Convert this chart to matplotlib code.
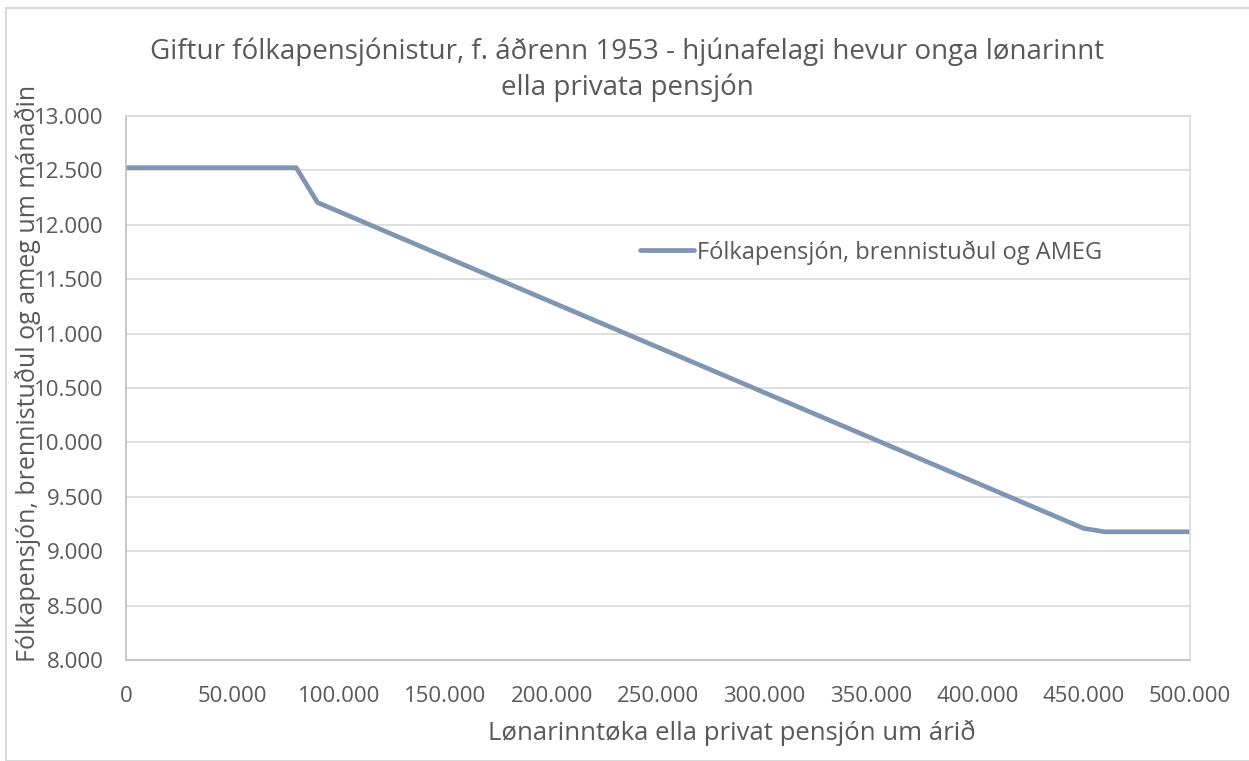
import matplotlib
matplotlib.use("Agg")
import matplotlib.pyplot as plt
from matplotlib.ticker import FuncFormatter, MultipleLocator
from matplotlib.patches import Rectangle

income = [0, 80000, 90000, 450000, 460000, 500000]
pension = [12525, 12525, 12205, 9210, 9178, 9178]

title = "Giftur fólkapensjónistur, f. áðrenn 1953 - hjúnafelagi hevur onga lønarinnt\nella privata pensjón"
series_label = "Fólkapensjón, brennistuðul og AMEG"
xlabel = "Lønarinntøka ella privat pensjón um árið"
ylabel = "Fólkapensjón, brennistuðul og ameg um mánaðin"

plt.rcParams['font.family'] = ['Open Sans', 'DejaVu Sans']
W, H = 1249, 761
fig = plt.figure(figsize=(W/100, H/100), dpi=100)
fig.patches.append(Rectangle((6/W, 0), 2, 1 - 8/H, transform=fig.transFigure,
                             fill=False, edgecolor='#d9d9d9', linewidth=1.5))

L, R, T, B = 126, 1190, 116, 660
ax = fig.add_axes([L/W, 1 - B/H, (R-L)/W, (B-T)/H])
line_color = '#7f95b2'
text_color = '#595959'
ax.plot(income, pension, color=line_color, linewidth=3.4, label=series_label,
        solid_capstyle='round')
ax.set_xlim(0, 500000)
ax.set_ylim(8000, 13000)
ax.xaxis.set_major_locator(MultipleLocator(50000))
ax.yaxis.set_major_locator(MultipleLocator(500))
fmt = FuncFormatter(lambda v, p: f"{int(v):,}".replace(",", "."))
ax.xaxis.set_major_formatter(fmt)
ax.yaxis.set_major_formatter(fmt)
ax.grid(axis='y', color='#d9d9d9', linewidth=1.2)
ax.set_axisbelow(True)
for s in ax.spines.values():
    s.set_color('#d9d9d9')
    s.set_linewidth(1.2)
ax.spines['left'].set_color('#bfbfbf')
ax.spines['bottom'].set_color('#bfbfbf')
ax.tick_params(length=0, labelsize=16, colors=text_color)
ax.tick_params(axis='y', pad=16)
ax.tick_params(axis='x', pad=19)

fig.text(732/W, 1 - 733/H, xlabel, ha='center', va='center', fontsize=18.5, color=text_color)
fig.text(28/W, 1 - 373/H, ylabel, ha='center', va='center', rotation=90,
         fontsize=18, color=text_color)
fig.text(627/W, 1 - 70/H, title, ha='center', va='center',
         fontsize=20, color=text_color, linespacing=1.35)

leg = ax.legend(loc='upper left', bbox_to_anchor=((640 - L)/(R - L), 1 - (240 - T)/(B - T)),
                frameon=False, fontsize=17, handlelength=2.3, handletextpad=0.1,
                borderaxespad=0, borderpad=0)
for t in leg.get_texts():
    t.set_color(text_color)

fig.savefig("out.png", dpi=100)
